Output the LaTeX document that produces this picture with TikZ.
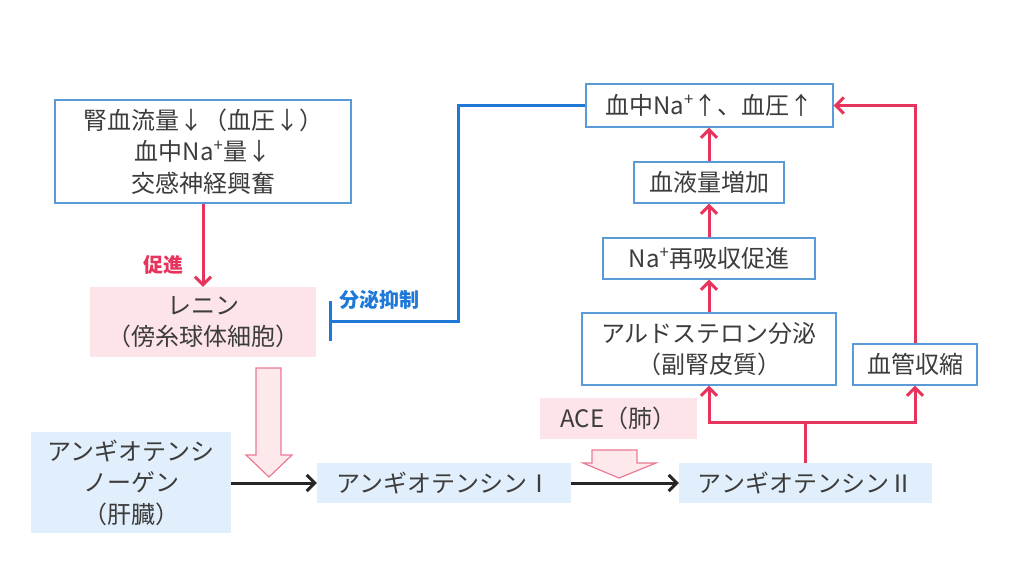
\documentclass[tikz,border=0pt]{standalone}
\usepackage{fontspec}
\setmainfont{Noto Sans CJK JP}
\usetikzlibrary{arrows.meta}
\definecolor{frameblue}{RGB}{90,155,215}
\definecolor{pinkfill}{RGB}{252,228,232}
\definecolor{bluefill}{RGB}{225,238,251}
\definecolor{arrowred}{RGB}{230,52,92}
\definecolor{inhibblue}{RGB}{30,120,215}
\definecolor{hollowedge}{RGB}{236,122,148}
\definecolor{hollowfill}{RGB}{253,232,236}
\definecolor{textgray}{RGB}{60,60,60}

\begin{document}
\begin{tikzpicture}[
  x=1pt, y=-1pt,
  every node/.style={
    inner sep=0pt, align=center, text=textgray,
    font=\fontsize{24}{31.5}\selectfont
  },
  boxsize/.style 2 args={
    minimum width=#1pt, minimum height=#2pt
  },
  framed/.style={draw=frameblue, line width=1.3pt, fill=white},
  pinkbox/.style={fill=pinkfill},
  bluebox/.style={fill=bluefill},
  tag/.style={font=\fontsize{20}{20}\selectfont\bfseries},
  promote/.style={
    draw=arrowred, line width=3pt,
    -{Straight Barb[length=8pt, width=16pt]}
  },
  convert/.style={
    draw=black!85, line width=3pt,
    -{Straight Barb[length=8pt, width=16pt]}
  },
  inhibit/.style={draw=inhibblue, line width=3pt, -{Bar[width=40pt]}},
  hollow/.style={draw=hollowedge, fill=hollowfill, line width=1.2pt}
  ]
  \useasboundingbox (0,0) rectangle (1024,576);

  \node[framed, boxsize={296}{103}] (cause) at (203,151.5)
    {腎血流量↓（血圧↓）\\血中Na\textsuperscript{+}量↓\\交感神経興奮};
  \node[pinkbox, boxsize={226}{70}] (renin) at (203,322)
    {レニン\\（傍糸球体細胞）};
  \node[bluebox, boxsize={200}{101}] (agen) at (131,482.5)
    {アンギオテンシ\\ノーゲン\\（肝臓）};
  \node[bluebox, boxsize={254}{40}] (ang1) at (444,483)
    {アンギオテンシンⅠ};
  \node[bluebox, boxsize={253}{40}] (ang2) at (805.5,483)
    {アンギオテンシンⅡ};
  \node[pinkbox, boxsize={157}{41}] (ace) at (618.5,418.5)
    {ACE（肺）};
  \node[framed, boxsize={247}{43}] (naup) at (709.5,105.5)
    {血中Na\textsuperscript{+}↑、血圧↑};
  \node[framed, boxsize={150}{41}] (blood) at (709,182.5)
    {血液量増加};
  \node[framed, boxsize={212}{41}] (reabs) at (709,258.5)
    {Na\textsuperscript{+}再吸収促進};
  \node[framed, boxsize={254}{72}] (aldo) at (709,349)
    {アルドステロン分泌\\（副腎皮質）};
  \node[framed, boxsize={124}{41}] (vaso) at (915,364.5)
    {血管収縮};

  \node[tag, text=arrowred] (promtag) at (163,265) {促進};
  \node[tag, text=inhibblue] (inhibtag) at (379,300) {分泌抑制};

  \draw[promote] (cause) -- (renin);
  \draw[promote] (aldo.north) -- (aldo.north |- reabs.south);
  \draw[promote] (reabs.north -| aldo.north) -- (aldo.north |- blood.south);
  \draw[promote] (blood.north -| aldo.north) -- (aldo.north |- naup.south);
  \draw[draw=arrowred, line width=3pt] (ang2.north) -- ++(0,-40) coordinate (split);
  \draw[promote] (split) -| (aldo.south);
  \draw[promote] (split) -| (vaso.south);
  \draw[promote] (vaso.north) |- (naup.east);

  \coordinate (bend) at (458,321);
  \coordinate (stop) at (329,321);
  \draw[inhibit] (naup.west) -| (bend) -- (stop);

  \draw[convert] (agen.east |- ang1) -- (ang1.west);
  \draw[convert] (ang1.east) -- (ang2.west);

  \draw[hollow] (256,368) -- (281,368) -- (281,455) -- (292,455)
    -- (269,477) -- (246,455) -- (256,455) -- cycle;
  \draw[hollow] (592,450) -- (637,450) -- (637,463) -- (656,463)
    -- (619,478) -- (583,463) -- (592,463) -- cycle;
\end{tikzpicture}
\end{document}
